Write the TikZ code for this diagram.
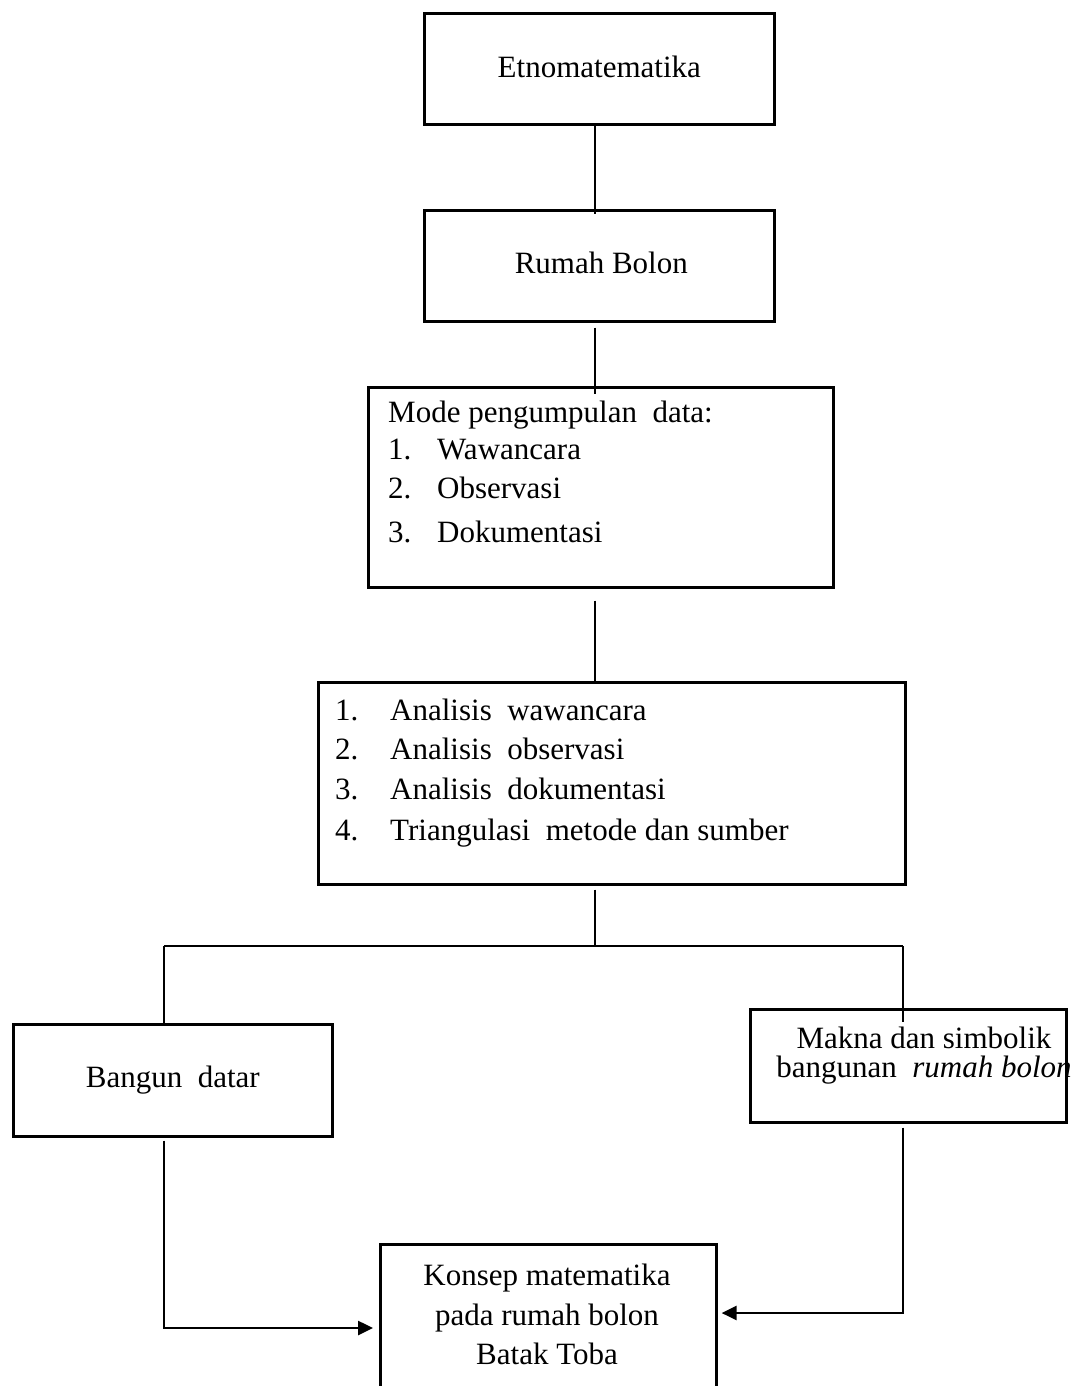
\documentclass[tikz,border=0pt]{standalone}
\usepackage{fontspec}
\setmainfont{Liberation Serif}
\usetikzlibrary{arrows.meta,calc}
\begin{document}
\begin{tikzpicture}[x=1pt,y=-1pt,
  box/.style={draw, line width=2.6pt, rectangle, inner sep=0pt, anchor=north west},
  conn/.style={line width=2.6pt},
  arr/.style={conn, -{Triangle[length=15pt,width=14pt]}},
  txt/.style={font=\fontsize{31}{37}\selectfont, inner sep=0pt},
  ltxt/.style={txt, anchor=base west}]
\useasboundingbox (0,0) rectangle (1075,1386);
\clip (0,0) rectangle (1075,1386);
% boxes
\node[box, minimum width=350pt, minimum height=111pt] (etno) at (423,12) {};
\node[box, minimum width=350pt, minimum height=111pt] (rb) at (423,209) {};
\node[box, minimum width=465pt, minimum height=200pt] (mode) at (367,386) {};
\node[box, minimum width=587pt, minimum height=202pt] (anal) at (317,681) {};
\node[box, minimum width=319pt, minimum height=112pt] (bang) at (12,1023) {};
\node[box, minimum width=316pt, minimum height=113pt] (makna) at (749,1008) {};
\node[box, minimum width=336pt, minimum height=200pt] (konsep) at (379,1243) {};
% texts
\node[txt] (etnot) at ($(etno.center)+(0,-2)$) {Etnomatematika};
\node[txt] (rbt) at ($(rb.center)+(2,-3)$) {Rumah Bolon};
\node[ltxt] (m0) at (388,422) {Mode pengumpulan\ \ data:};
\node[ltxt] (m1n) at (388,459) {1.};
\node[ltxt] (m1) at (437,459) {Wawancara};
\node[ltxt] (m2n) at (388,498) {2.};
\node[ltxt] (m2) at (437,498) {Observasi};
\node[ltxt] (m3n) at (388,542) {3.};
\node[ltxt] (m3) at (437,542) {Dokumentasi};
\node[ltxt] (a1n) at (335,720) {1.};
\node[ltxt] (a1) at (390,720) {Analisis\ \ wawancara};
\node[ltxt] (a2n) at (335,759) {2.};
\node[ltxt] (a2) at (390,759) {Analisis\ \ observasi};
\node[ltxt] (a3n) at (335,799) {3.};
\node[ltxt] (a3) at (390,799) {Analisis\ \ dokumentasi};
\node[ltxt] (a4n) at (335,840) {4.};
\node[ltxt] (a4) at (390,840) {Triangulasi\ \ metode dan sumber};
\node[txt] (bangt) at (bang.center) {Bangun\ \ datar};
\node[txt, anchor=base] (mk1) at (924,1048) {Makna dan simbolik};
\node[txt, anchor=base] (mk2) at (924,1077) {bangunan\ \ \textit{rumah bolon}};
\node[txt, anchor=base] (k1) at (547,1285) {Konsep matematika};
\node[txt, anchor=base] (k2) at (547,1325) {pada rumah bolon};
\node[txt, anchor=base] (k3) at (547,1364) {Batak Toba};
% connectors
\coordinate (cx) at (595,0);
\coordinate (split) at (595,946);
\coordinate (jl) at (164,946);
\coordinate (jr) at (903,946);
\coordinate (yl) at (0,1328);
\coordinate (yr) at (0,1313);
\draw[conn] (etno.south -| cx) -- ($(rb.north -| cx)+(0,5)$);
\draw[conn] ($(rb.south -| cx)+(0,5)$) -- ($(mode.north -| cx)+(0,8)$);
\draw[conn] ($(mode.south -| cx)+(0,12)$) -- (anal.north -| cx);
\draw[conn] ($(anal.south -| cx)+(0,4)$) -- (split);
\draw[conn] (jl) -- (jr);
\draw[conn] (jl) -- (bang.north -| jl);
\draw[conn] (jr) -- ($(makna.north -| jr)+(0,14)$);
\draw[arr] ($(bang.south -| jl)+(0,3)$) |- ($(konsep.west |- yl)+(-6,0)$);
\draw[arr] ($(makna.south -| jr)+(0,4)$) |- ($(konsep.east |- yr)+(4,0)$);
\end{tikzpicture}
\end{document}
